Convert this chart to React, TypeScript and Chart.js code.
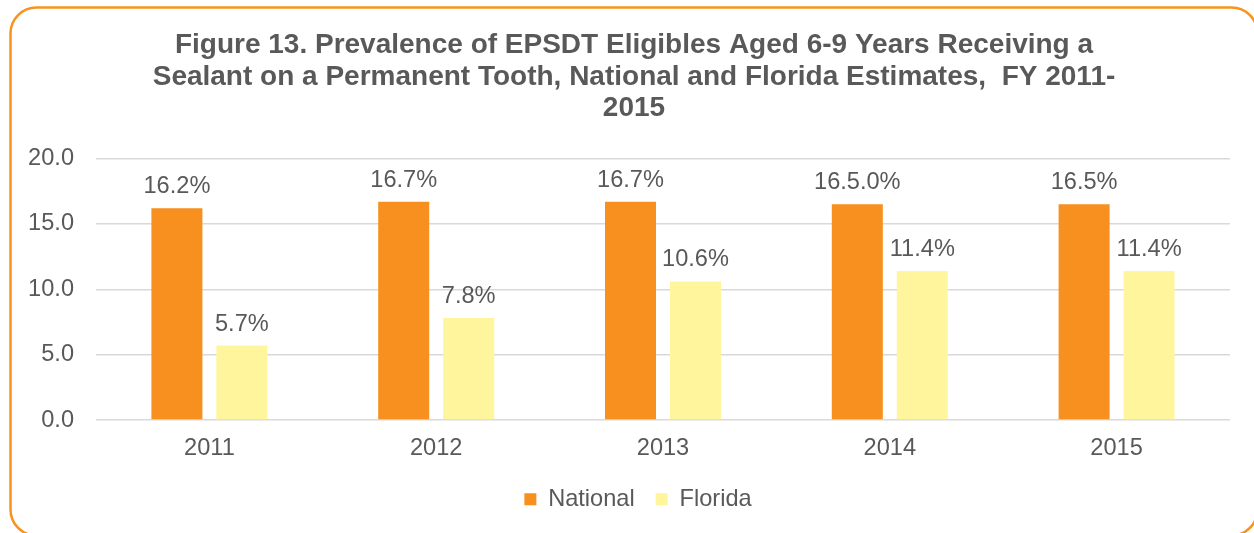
import React, { useEffect, useRef } from "react";
import { Chart, registerables } from "chart.js";

Chart.register(...registerables);

const categories = ["2011", "2012", "2013", "2014", "2015"];
const nationalValues = [16.2, 16.7, 16.7, 16.5, 16.5];
const floridaValues = [5.7, 7.8, 10.6, 11.4, 11.4];
const nationalLabels = ["16.2%", "16.7%", "16.7%", "16.5.0%", "16.5%"];
const floridaLabels = ["5.7%", "7.8%", "10.6%", "11.4%", "11.4%"];
const titleLines = [
  "Figure 13. Prevalence of EPSDT Eligibles Aged 6-9 Years Receiving a",
  "Sealant on a Permanent Tooth, National and Florida Estimates,  FY 2011-",
  "2015",
];
const yMin = 0;
const yMax = 20;
const yStep = 5;

const FONT = "'Liberation Sans', Arial, sans-serif";
const TEXT = "#595959";
const ORANGE = "#F7901E";
const YELLOW = "#FFF59D";
const BORDER = "#F7931E";

const borderPlugin = {
  id: "roundBorder",
  afterLayout(chart: any) {
    const t = chart.titleBlock;
    if (t) {
      t.left += 5;
      t.right += 5;
    }
    const l = chart.legend;
    if (l) {
      l.left += 9;
      l.right += 9;
    }
  },
  beforeDraw(chart: any) {
    const ctx = chart.ctx;
    ctx.save();
    ctx.fillStyle = "#ffffff";
    ctx.fillRect(0, 0, chart.width, chart.height);
    ctx.beginPath();
    ctx.strokeStyle = BORDER;
    ctx.lineWidth = 2.5;
    ctx.roundRect(10.5, 7.5, 1247, 528, 26);
    ctx.stroke();
    ctx.restore();
  },
};

const labelPlugin = {
  id: "barLabels",
  afterDatasetsDraw(chart: any) {
    const ctx = chart.ctx;
    const sets = [nationalLabels, floridaLabels];
    ctx.save();
    ctx.font = `23.6px ${FONT}`;
    ctx.fillStyle = TEXT;
    ctx.textAlign = "center";
    ctx.textBaseline = "alphabetic";
    chart.data.datasets.forEach((_: any, di: number) => {
      const meta = chart.getDatasetMeta(di);
      meta.data.forEach((el: any, i: number) => {
        ctx.fillText(sets[di][i], el.x, el.y - 15);
      });
    });
    ctx.restore();
  },
};

export default function App() {
  const ref = useRef<HTMLCanvasElement>(null);
  useEffect(() => {
    if (!ref.current) return;
    const chart = new Chart(ref.current, {
      type: "bar",
      data: {
        labels: categories,
        datasets: [
          {
            label: "National",
            data: nationalValues,
            backgroundColor: ORANGE,
            categoryPercentage: 0.573,
            barPercentage: 0.785,
          },
          {
            label: "Florida",
            data: floridaValues,
            backgroundColor: YELLOW,
            categoryPercentage: 0.573,
            barPercentage: 0.785,
          },
        ],
      },
      options: {
        responsive: false,
        animation: false,
        layout: { padding: { left: 28, right: 24, top: 0, bottom: 12 } },
        plugins: {
          title: {
            display: true,
            text: titleLines,
            color: TEXT,
            font: { family: FONT, size: 28, weight: "bold", lineHeight: 1.125 },
            padding: { top: 30, bottom: 34 },
          },
          legend: {
            position: "bottom",
            labels: {
              color: TEXT,
              font: { family: FONT, size: 23.6 },
              boxWidth: 12,
              boxHeight: 12,
              padding: 21,
            },
          },
          tooltip: { enabled: false },
        },
        scales: {
          x: {
            grid: { display: false, drawTicks: false },
            border: { display: false },
            ticks: { color: TEXT, font: { family: FONT, size: 23.6 }, padding: 14 },
            afterFit(scale: any) {
              scale.height -= 10;
            },
          },
          y: {
            min: yMin,
            max: yMax,
            afterFit(scale: any) {
              scale.width = 68;
            },
            grid: { color: "#D9D9D9", lineWidth: 1.5, drawTicks: false },
            border: { display: false },
            ticks: {
              stepSize: yStep,
              color: TEXT,
              font: { family: FONT, size: 23.6 },
              padding: 22,
              callback: (v: any) => Number(v).toFixed(1),
            },
          },
        },
      },
      plugins: [borderPlugin, labelPlugin],
    });
    return () => chart.destroy();
  }, []);
  return (
    <div style={{ position: "absolute", left: 0, top: 0, width: 1254, height: 533 }}>
      <canvas ref={ref} width={1254} height={533} />
    </div>
  );
}
